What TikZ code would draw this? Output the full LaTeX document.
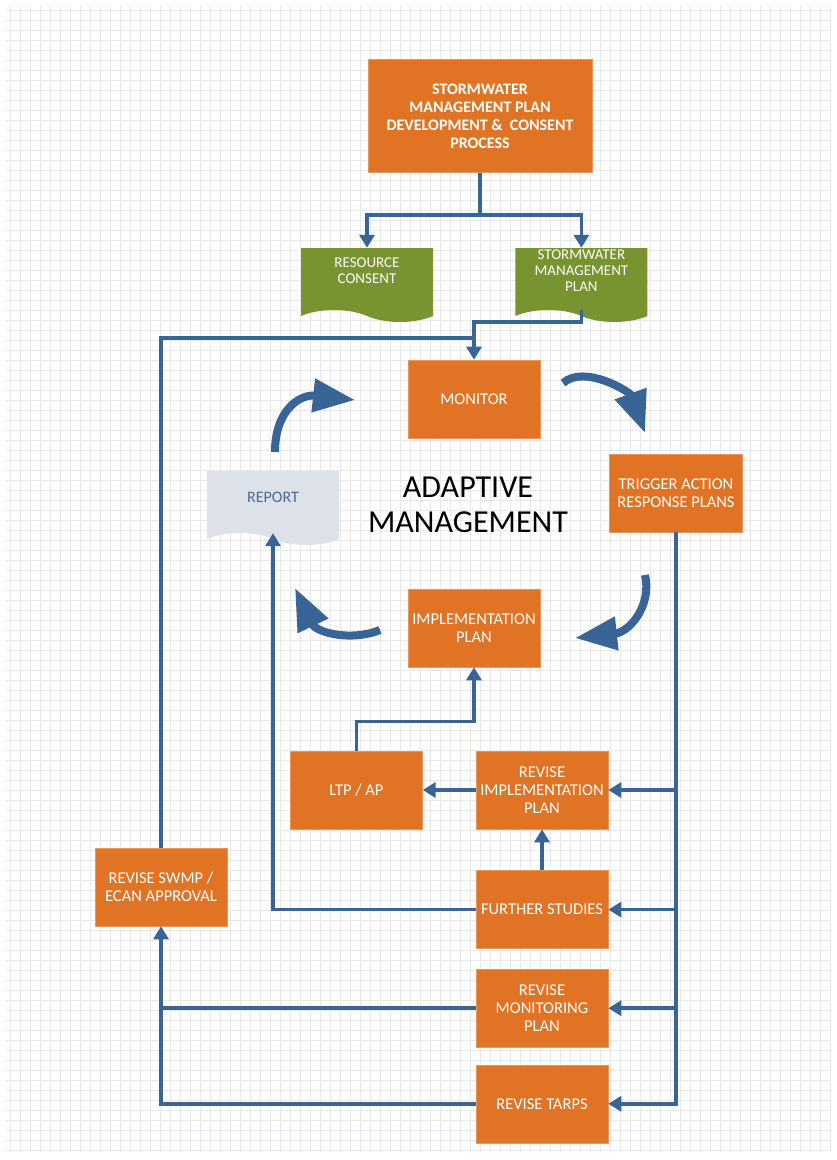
\documentclass[tikz,border=0pt]{standalone}
\usepackage{fontspec}
\setmainfont{Carlito}
\usetikzlibrary{shapes.symbols, arrows.meta, positioning, backgrounds}

\definecolor{swOrange}{RGB}{224,116,36}
\definecolor{swGreen}{RGB}{120,148,48}
\definecolor{swBlue}{RGB}{56,100,150}
\definecolor{repFill}{RGB}{221,226,234}
\definecolor{repText}{RGB}{76,106,150}

\begin{document}
\begin{tikzpicture}[
        x=1pt, y=-1pt,
        box/.style={rectangle, fill=swOrange, draw=swOrange!75!white, line width=0.6pt, text=white, minimum width=132pt, minimum height=78pt, align=center, inner sep=2pt, font=\fontsize{16.5}{18}\selectfont},
        doc/.style={tape, tape bend top=none, tape bend bottom=out and in, tape bend height=12pt, minimum width=132pt, minimum height=74pt, align=center, inner sep=2pt, font=\fontsize{15}{16}\selectfont, execute at end node={\rule[-#1]{0pt}{0pt}}},
        link/.style={draw=swBlue, line width=3.5pt, -{Triangle[length=13pt, width=15pt]}},
        wire/.style={draw=swBlue, line width=3.5pt},
        cyc/.style={draw=swBlue, line width=8pt, -{Triangle[length=42pt, width=32pt]}},
        gridline/.style={draw=gray!18, line width=0.35pt},
    ]
    \useasboundingbox (0,0) rectangle (836,1160);
    \fill[white] (0,0) rectangle (836,1160);
    \foreach \gx in {10,20,...,830} \draw[gridline] (\gx,6) -- (\gx,1152);
    \foreach \gy in {10,20,...,1150} \draw[gridline] (6,\gy) -- (830,\gy);

    \node[box, minimum width=224pt, minimum height=113pt, font=\fontsize{16}{18}\selectfont\bfseries] (top) at (480,116) {STORMWATER\\MANAGEMENT PLAN\\DEVELOPMENT \&\ \ CONSENT\\PROCESS};
    \node[doc=16pt, fill=swGreen, text=white] (rc) at (367,279) {RESOURCE\\CONSENT};
    \node[doc=16pt, fill=swGreen, text=white, right=82pt of rc] (smp) {STORMWATER\\MANAGEMENT\\PLAN};
    \node[box] (mon) at (474,399) {MONITOR};
    \node[box, minimum width=133pt] (trig) at (676,493) {TRIGGER ACTION\\RESPONSE PLANS};
    \node[doc=10pt, fill=repFill, text=repText, font=\fontsize{16}{18}\selectfont] (rep) at (273,502) {REPORT};
    \node[font=\fontsize{32}{35}\selectfont, align=center] (am) at (468,505) {ADAPTIVE\\MANAGEMENT};
    \node[box] (impl) at (474,628) {IMPLEMENTATION\\PLAN};
    \node[box] (rip) at (542,790) {REVISE\\IMPLEMENTATION\\PLAN};
    \node[box, left=53pt of rip] (ltp) {LTP / AP};
    \node[box, below=41pt of rip] (fs) {FURTHER STUDIES};
    \node[box, below=20pt of fs] (rmp) {REVISE\\MONITORING\\PLAN};
    \node[box, below=17pt of rmp] (rt) {REVISE TARPS};
    \node[box] (swmp) at (161,887) {REVISE SWMP /\\ECAN APPROVAL};

    \coordinate (j1) at (474,322);
    \coordinate (j2) at (474,338);

    \draw[link] (top.south) -- ++(0,42) -| (rc.north);
    \draw[link] (top.south) -- ++(0,42) -| (smp.north);
    \draw[link] (smp.south) |- (j1) -- (mon.north);
    \draw[wire] (swmp.north) |- (j2);

    \draw[link] (trig.south) |- (rt.east);
    \draw[link] (trig.south |- rip.east) -- (rip.east);
    \draw[link] (trig.south |- fs.east) -- (fs.east);
    \draw[link] (trig.south |- rmp.east) -- (rmp.east);

    \draw[link] (rip.west) -- (ltp.east);
    \draw[link] (fs.north) -- (rip.south);
    \draw[link] (ltp.north) -- ++(0,-29) -| (impl.south);
    \draw[link] (fs.west) -| (rep.south);
    \draw[link] (rt.west) -| (swmp.south);
    \draw[wire] (rmp.west) -- (rmp.west -| swmp.south);

    \coordinate (a1) at (275,452);
    \coordinate (b1) at (355,400);
    \coordinate (a2) at (563,383);
    \coordinate (b2) at (645,433);
    \coordinate (a3) at (645,575);
    \coordinate (b3) at (575,638);
    \coordinate (a4) at (380,630);
    \coordinate (b4) at (295,588);
    \draw[cyc] (a1) .. controls (275,410) and (300,394) .. (b1);
    \draw[cyc] (a2) .. controls (585,364) and (630,392) .. (b2);
    \draw[cyc] (a3) .. controls (652,605) and (630,632) .. (b3);
    \draw[cyc] (a4) .. controls (350,642) and (316,632) .. (b4);
\end{tikzpicture}
\end{document}
